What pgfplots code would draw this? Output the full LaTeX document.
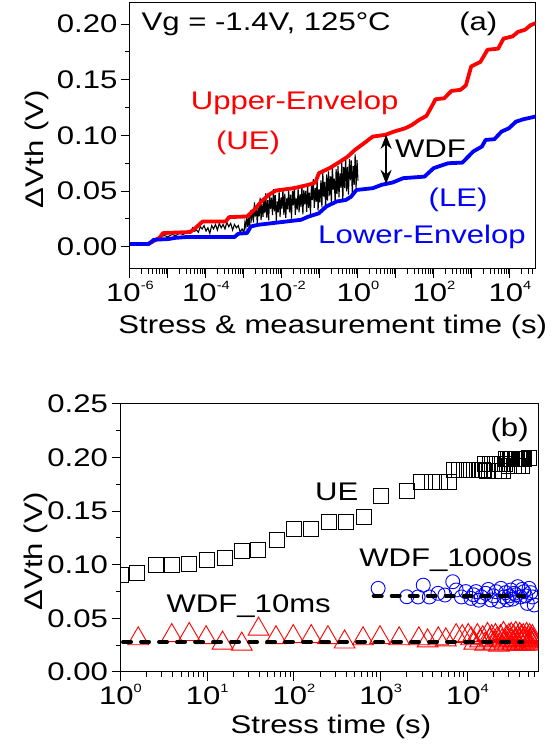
\documentclass[border=0pt]{standalone}
\usepackage{fontspec}
\setmainfont{Liberation Sans}[FakeStretch=1.22]
\usepackage{pgfplots}
\usepackage{pgfplotstable}
\pgfplotsset{compat=1.18}
\usetikzlibrary{arrows.meta}

\newcommand{\dec}[1]{10\raisebox{0.46em}{\fontsize{12}{12}\selectfont #1}}

% (a) upper envelope, log10(t) and dVth
\pgfplotstableread{
lx v
-5.55 0.002
-5.23 0.0078
-5.13 0.0123
-4.42 0.0132
-4.28 0.0167
-4.09 0.0227
-3.48 0.0227
-3.39 0.0266
-2.92 0.0272
-2.73 0.0332
-2.54 0.0407
-2.35 0.0466
-2.16 0.0505
-1.69 0.0526
-1.31 0.0556
-1.12 0.0577
-1.03 0.0661
-0.75 0.0706
-0.51 0.0756
-0.27 0.0810
-0.08 0.0870
0.10 0.0915
0.39 0.0990
0.72 0.1005
0.95 0.1035
1.24 0.1064
1.42 0.1094
1.61 0.1140
1.80 0.1175
1.94 0.1260
2.04 0.1325
2.27 0.1334
2.46 0.1400
2.70 0.1410
2.84 0.1450
2.98 0.1620
3.22 0.1660
3.41 0.1770
3.69 0.1780
3.83 0.1870
4.07 0.1890
4.21 0.1930
4.40 0.1950
4.54 0.1990
4.68 0.2010
}\ue

% (a) lower envelope
\pgfplotstableread{
lx v
-6.00 0.0024
-5.51 0.0024
-5.37 0.0063
-4.99 0.0069
-4.80 0.0080
-4.52 0.0087
-3.25 0.0087
-3.15 0.0117
-2.92 0.0123
-2.82 0.0182
-2.63 0.0197
-1.50 0.0242
-1.31 0.0270
-1.03 0.0300
-0.84 0.0360
-0.56 0.0407
-0.32 0.0420
-0.18 0.0450
-0.04 0.0510
0.39 0.0526
0.62 0.0556
0.91 0.0577
1.19 0.0616
1.75 0.0630
1.99 0.0706
2.37 0.0750
2.75 0.0756
3.03 0.0855
3.26 0.0900
3.36 0.0960
3.59 0.0966
3.78 0.1035
3.97 0.1064
4.16 0.1124
4.35 0.1145
4.68 0.1170
}\le

% (a) measured dVth
\pgfplotstableread{
lx v
-5.40 0.004
-5.30 0.007
-5.20 0.009
-5.10 0.010
-5.00 0.009
-4.90 0.011
-4.80 0.010
-4.70 0.012
-4.60 0.011
-4.50 0.013
-4.42 0.012
-4.35 0.017
-4.30 0.014
-4.25 0.015
-4.20 0.013
-4.15 0.018
-4.10 0.016
-4.05 0.019
-4.00 0.014
-3.95 0.017
-3.90 0.012
-3.85 0.019
-3.80 0.016
-3.75 0.020
-3.70 0.015
-3.65 0.021
-3.60 0.017
-3.55 0.020
-3.50 0.016
-3.45 0.022
-3.40 0.018
-3.35 0.021
-3.30 0.015
-3.25 0.020
-3.20 0.017
-3.15 0.019
-3.10 0.013
-3.05 0.016
-3.000 0.0130
-2.975 0.0221
-2.950 0.0171
-2.925 0.0266
-2.900 0.0178
-2.875 0.0263
-2.850 0.0173
-2.825 0.0326
-2.800 0.0252
-2.775 0.0335
-2.750 0.0218
-2.725 0.0398
-2.700 0.0270
-2.675 0.0367
-2.650 0.0203
-2.625 0.0351
-2.600 0.0273
-2.575 0.0440
-2.550 0.0239
-2.525 0.0384
-2.500 0.0268
-2.475 0.0431
-2.450 0.0300
-2.425 0.0481
-2.400 0.0262
-2.375 0.0418
-2.350 0.0237
-2.325 0.0465
-2.300 0.0339
-2.275 0.0441
-2.250 0.0285
-2.225 0.0518
-2.200 0.0317
-2.175 0.0463
-2.150 0.0233
-2.125 0.0408
-2.100 0.0308
-2.075 0.0497
-2.050 0.0267
-2.025 0.0442
-2.000 0.0342
-1.975 0.0517
-1.950 0.0287
-1.925 0.0476
-1.900 0.0260
-1.875 0.0435
-1.850 0.0335
-1.825 0.0510
-1.800 0.0308
-1.775 0.0469
-1.750 0.0253
-1.725 0.0501
-1.700 0.0371
-1.675 0.0546
-1.650 0.0287
-1.625 0.0433
-1.600 0.0333
-1.575 0.0523
-1.550 0.0309
-1.525 0.0471
-1.500 0.0357
-1.475 0.0548
-1.450 0.0290
-1.425 0.0510
-1.400 0.0382
-1.375 0.0501
-1.350 0.0314
-1.325 0.0552
-1.300 0.0349
-1.275 0.0485
-1.250 0.0295
-1.225 0.0552
-1.200 0.0420
-1.175 0.0608
-1.150 0.0350
-1.125 0.0527
-1.100 0.0403
-1.075 0.0605
-1.050 0.0325
-1.025 0.0515
-1.000 0.0398
-0.975 0.0596
-0.950 0.0354
-0.925 0.0661
-0.900 0.0451
-0.875 0.0582
-0.850 0.0333
-0.825 0.0649
-0.800 0.0414
-0.775 0.0678
-0.750 0.0460
-0.725 0.0632
-0.700 0.0393
-0.675 0.0735
-0.650 0.0514
-0.625 0.0612
-0.600 0.0389
-0.575 0.0698
-0.550 0.0474
-0.525 0.0727
-0.500 0.0443
-0.475 0.0659
-0.450 0.0528
-0.425 0.0766
-0.400 0.0400
-0.375 0.0717
-0.350 0.0527
-0.325 0.0805
-0.300 0.0498
-0.275 0.0718
-0.250 0.0469
-0.225 0.0786
-0.200 0.0596
-0.175 0.0776
-0.150 0.0469
-0.125 0.0725
-0.100 0.0556
-0.075 0.0830
-0.050 0.0527
-0.025 0.0780
0.000 0.0594
}\raw

% (b) UE
\pgfplotstableread{
t v
0.98 0.086
1.0 0.0905
1.57 0.092
2.54 0.0998
3.95 0.0998
6.12 0.101
9.93 0.1045
16.1 0.106
25.1 0.113
38.9 0.114
63.1 0.123
100 0.1335
157 0.1335
251 0.1397
398 0.1397
640 0.1449
1000 0.1639
2030 0.169
2950 0.177
3890 0.177
4790 0.177
6170 0.177
7000 0.188
8000 0.188
9000 0.188
10000 0.188
11000 0.188
12000 0.188
13000 0.188
14000 0.188
15000 0.188
16000 0.194
17000 0.1875
18000 0.194
19000 0.194
20000 0.1875
21000 0.194
22000 0.194
23000 0.1875
24000 0.194
25000 0.194
26000 0.1875
27000 0.194
28000 0.199
29000 0.199
30000 0.192
31000 0.199
32000 0.199
33000 0.199
34000 0.192
35000 0.199
36000 0.199
37000 0.199
38000 0.192
39000 0.199
40000 0.199
41000 0.199
42000 0.192
43000 0.199
44000 0.199
45000 0.199
51000 0.200
}\uepts

% (b) WDF at 1000 s
\pgfplotstableread{
t v
933 0.078
1995 0.0702
2692 0.070
3090 0.081
3631 0.070
4571 0.0734
5495 0.0718
6761 0.0842
7413 0.0765
8511 0.070
9550 0.075
10965 0.0687
11749 0.072
12589 0.075
13490 0.067
14454 0.070
16218 0.0734
17378 0.077
18621 0.0672
19953 0.071
21380 0.0749
22909 0.066
24266 0.078
26303 0.070
27542 0.074
28840 0.0672
30200 0.071
31623 0.0765
33113 0.068
34674 0.0734
36308 0.072
38019 0.0796
40738 0.070
42658 0.077
44668 0.0749
46774 0.071
48978 0.064
51286 0.078
53703 0.074
56234 0.070
58884 0.0625
}\wdfk

% (b) WDF at 10 ms
\pgfplotstableread{
t v
0.92 0.040
1.6 0.031
3.9 0.034
6.2 0.035
9.7 0.032
15 0.027
25 0.026
39 0.040
62 0.032
98 0.033
158 0.033
246 0.032
383 0.028
625 0.031
980 0.032
1630 0.031
2750 0.031
3470 0.029
4600 0.031
5630 0.030
7400 0.034
8700 0.033
10200 0.034
11000 0.031
12000 0.027
13000 0.034
14000 0.029
15000 0.032
16000 0.026
17000 0.035
18000 0.030
19000 0.033
20000 0.027
21000 0.034
22000 0.031
23000 0.025
24000 0.033
25000 0.029
26000 0.036
27000 0.028
28000 0.032
29000 0.026
30000 0.034
31000 0.030
32000 0.035
33000 0.027
34000 0.033
35000 0.029
36000 0.036
37000 0.026
38000 0.032
39000 0.030
40000 0.035
41000 0.027
42000 0.033
43000 0.029
44000 0.034
45000 0.026
46000 0.031
47000 0.028
48000 0.035
49000 0.030
50000 0.032
51000 0.026
52000 0.034
53000 0.029
54000 0.031
55000 0.027
56000 0.033
57000 0.030
58000 0.028
}\wdfm

\begin{document}
\begin{tikzpicture}
\useasboundingbox (0,0) rectangle (557pt,751pt);
\pgfplotsset{
  every axis/.append style={
    font=\fontsize{25.5}{30}\selectfont,
    scale only axis,
    axis line style={line width=1pt},
    every tick/.style={black, line width=1pt},
    tick align=outside,
    xtick pos=bottom, ytick pos=left,
    major tick length=9pt, minor tick length=5pt,
    yticklabel style={/pgf/number format/.cd, fixed, fixed zerofill, precision=2, assume math mode=true},
  },
}
\begin{axis}[
  at={(130pt,482pt)}, anchor=south west,
  width=405.5pt, height=266pt,
  xmode=log, xmin=1e-6, xmax=4.7e4,
  ymin=-0.02, ymax=0.219,
  xtick={1e-6,1e-5,1e-4,1e-3,1e-2,1e-1,1,10,100,1e3,1e4},
  xticklabels={\dec{-6},,\dec{-4},,\dec{-2},,\dec{0},,\dec{2},,\dec{4}},
  minor xtick={2e-6,3e-6,4e-6,5e-6,6e-6,7e-6,8e-6,9e-6,
    2e-5,3e-5,4e-5,5e-5,6e-5,7e-5,8e-5,9e-5,
    2e-4,3e-4,4e-4,5e-4,6e-4,7e-4,8e-4,9e-4,
    2e-3,3e-3,4e-3,5e-3,6e-3,7e-3,8e-3,9e-3,
    2e-2,3e-2,4e-2,5e-2,6e-2,7e-2,8e-2,9e-2,
    0.2,0.3,0.4,0.5,0.6,0.7,0.8,0.9,2,3,4,5,6,7,8,9,
    20,30,40,50,60,70,80,90,200,300,400,500,600,700,800,900,
    2e3,3e3,4e3,5e3,6e3,7e3,8e3,9e3,2e4,3e4,4e4},
  ytick={0,0.05,0.1,0.15,0.2}, minor ytick={0.025,0.075,0.125,0.175},
  xlabel={Stress \& measurement time (s)},
  ylabel={ΔVth (V)},
  xlabel style={at={(axis description cs:0.5,-0.218)}, anchor=center},
  ylabel style={at={(axis description cs:-0.23,0.45)}, anchor=center},
]
\addplot[black, line width=1.1pt] table[x expr={10^(\thisrow{lx})}, y=v] {\raw};
\addplot[red, line width=3.8pt, line join=round] table[x expr={10^(\thisrow{lx})}, y=v] {\ue};
\addplot[blue, line width=3.8pt, line join=round] table[x expr={10^(\thisrow{lx})}, y=v] {\le};
\draw[{Stealth[length=14pt,width=11pt]}-{Stealth[length=14pt,width=11pt]}, line width=2pt]
  (axis cs:5.5,0.0565) -- (axis cs:5.5,0.1005);
\node[anchor=west] at (axis description cs:0.02,0.92) {Vg = -1.4V, 125°C};
\node at (axis description cs:0.859,0.92) {(a)};
\node[red] at (axis description cs:0.406,0.623) {Upper-Envelop};
\node[red] at (axis description cs:0.291,0.4725) {(UE)};
\node[anchor=west] at (axis description cs:0.645,0.454) {WDF};
\node[blue] at (axis description cs:0.809,0.259) {(LE)};
\node[blue] at (axis description cs:0.72,0.121) {Lower-Envelop};
\end{axis}

\begin{axis}[
  at={(120.5pt,79pt)}, anchor=south west,
  width=417.5pt, height=268pt,
  xmode=log, xmin=1, xmax=6.5e4,
  ymin=0, ymax=0.25,
  clip marker paths=true,
  xtick={1,10,100,1000,10000},
  xticklabels={\dec{0},\dec{1},\dec{2},\dec{3},\dec{4}},
  minor xtick={2,3,4,5,6,7,8,9,20,30,40,50,60,70,80,90,
    200,300,400,500,600,700,800,900,2e3,3e3,4e3,5e3,6e3,7e3,8e3,9e3,
    2e4,3e4,4e4,5e4,6e4},
  ytick={0,0.05,0.1,0.15,0.2,0.25}, minor ytick={0.025,0.075,0.125,0.175,0.225},
  xlabel={Stress time (s)},
  ylabel={ΔVth (V)},
  xlabel style={at={(axis description cs:0.504,-0.205)}, anchor=center},
  ylabel style={at={(axis description cs:-0.2036,0.45)}, anchor=center},
]
\addplot[only marks, mark=triangle, mark size=12pt, red, mark options={line width=0.9pt}] table[x=t, y=v] {\wdfm};
\addplot[only marks, mark=o, mark size=7pt, blue, mark options={line width=0.9pt}] table[x=t, y=v] {\wdfk};
\addplot[only marks, mark=square, mark size=7.5pt, black, mark options={line width=1pt}] table[x=t, y=v] {\uepts};
\addplot[black, line width=4pt, line cap=round, dash pattern=on 8pt off 10pt] coordinates {(1.07,0.028) (43000,0.028)};
\addplot[black, line width=4pt, line cap=round, dash pattern=on 8pt off 10pt] coordinates {(830,0.071) (45000,0.071)};
\node at (axis description cs:0.932,0.903) {(b)};
\node at (axis description cs:0.518,0.673) {UE};
\node at (axis description cs:0.779,0.418) {WDF\_1000s};
\node at (axis description cs:0.307,0.244) {WDF\_10ms};
\end{axis}
\end{tikzpicture}
\end{document}
